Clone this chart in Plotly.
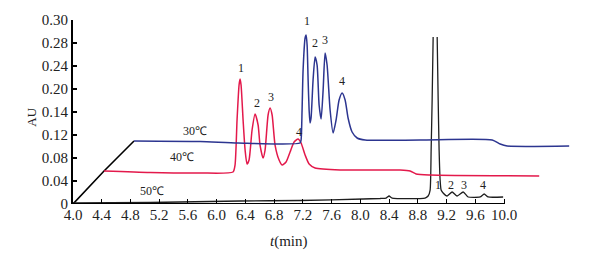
import plotly.graph_objects as go

# ---- data ----
t50 = [4.000, 5.072, 6.325, 7.160, 8.037, 8.274, 8.358, 8.399, 8.441, 8.900, 8.942, 8.970, 8.984,
       8.998, 9.012, None, 9.068, 9.082, 9.095, 9.109, 9.123, 9.151, 9.207, 9.276, 9.346, 9.430,
       9.499, 9.666, 9.722, 9.778, 9.986]
au50 = [0.0017, 0.0026, 0.0052, 0.0061, 0.0087, 0.0096, 0.0104, 0.0139, 0.0104, 0.0104, 0.0139, 0.0243, 0.0939,
        0.1809, 0.2904, None, 0.2904, 0.1809, 0.0939, 0.0417, 0.0243, 0.0191, 0.0139, 0.0209, 0.0139, 0.0209,
        0.0122, 0.0122, 0.0174, 0.0122, 0.0122]

t40 = [4.432, 5.072, 5.768, 6.227, 6.255, 6.283, 6.311, 6.325, 6.339, 6.367, 6.395, 6.422, 6.450,
       6.492, 6.534, 6.576, 6.603, 6.645, 6.673, 6.715, 6.743, 6.771, 6.812, 6.868, 6.910, 6.965,
       7.021, 7.077, 7.132, 7.174, 7.230, 7.286, 7.369, 7.717, 8.552, 8.692, 8.775, 8.970, 10.488]
au40 = [0.0574, 0.0548, 0.0539, 0.0557, 0.0678, 0.1461, 0.2070, 0.2174, 0.2070, 0.1461, 0.0939, 0.0696, 0.0765,
        0.1287, 0.1565, 0.1374, 0.1026, 0.0800, 0.0939, 0.1548, 0.1670, 0.1548, 0.1026, 0.0765, 0.0678, 0.0730,
        0.0904, 0.1078, 0.1130, 0.1061, 0.0852, 0.0696, 0.0626, 0.0591, 0.0591, 0.0574, 0.0522, 0.0504, 0.0487]

t30 = [4.849, 5.768, 6.297, 7.160, 7.174, 7.188, 7.202, 7.230, 7.244, 7.258, 7.272, 7.286, 7.299,
       7.313, 7.341, 7.369, 7.397, 7.425, 7.453, 7.481, 7.508, 7.536, 7.578, 7.620, 7.661, 7.703,
       7.745, 7.787, 7.828, 7.884, 7.954, 8.065, 8.831, 9.834, 9.945, 10.042, 10.905]
au30 = [0.1096, 0.1087, 0.1061, 0.1061, 0.1113, 0.1635, 0.2330, 0.2887, 0.2939, 0.2765, 0.2157, 0.1635, 0.1409,
        0.1496, 0.2157, 0.2557, 0.2417, 0.1722, 0.1478, 0.1983, 0.2626, 0.2417, 0.1635, 0.1235, 0.1461, 0.1809,
        0.1930, 0.1809, 0.1496, 0.1252, 0.1148, 0.1113, 0.1113, 0.1113, 0.1043, 0.1009, 0.1009]

# pseudo-3D depth axis (start of each temperature baseline)
depth_t = [4.000, 4.432, 4.849]
depth_au = [0.0, 0.0574, 0.1096]

temps = ["50℃", "40℃", "30℃"]
peak_names = ["1", "2", "3", "4"]

x_tickvals = [4.0, 4.4, 4.8, 5.2, 5.6, 6.0, 6.4, 6.8, 7.2, 7.6, 8.0, 8.4, 8.8, 9.2, 9.6, 10.0]
x_ticktext = ["4.0", "4.4", "4.8", "5.2", "5.6", "6.0", "6.4", "6.8", "7.2", "7.6", "8.0", "8.4",
              "8.8", "9.2", "9.6", "10.0"]
y_tickvals = [0, 0.04, 0.08, 0.12, 0.16, 0.20, 0.24, 0.28, 0.32]
y_ticktext = ["0", "0.04", "0.08", "0.12", "0.14", "0.20", "0.24", "0.28", "0.30"]

SERIF = "Liberation Serif, Times New Roman, serif"
BLACK = "#1e1e1e"
RED = "#e3194b"
BLUE = "#2c3590"

fig = go.Figure()
fig.add_trace(go.Scatter(x=depth_t, y=depth_au, mode="lines",
                         line=dict(color="black", width=1.6), hoverinfo="skip"))
fig.add_trace(go.Scatter(x=t50, y=au50, mode="lines", connectgaps=False,
                         line=dict(color=BLACK, width=1.3, shape="spline", smoothing=0.5)))
fig.add_trace(go.Scatter(x=t40, y=au40, mode="lines",
                         line=dict(color=RED, width=1.5, shape="spline", smoothing=0.6)))
fig.add_trace(go.Scatter(x=t30, y=au30, mode="lines",
                         line=dict(color=BLUE, width=1.5, shape="spline", smoothing=0.6)))

ann = []
def lab(x, y, text, size=12):
    ann.append(dict(x=x, y=y, xref="x", yref="y", text=text, showarrow=False,
                    font=dict(family=SERIF, size=size, color="#222")))

# peak labels
for x, y, n in zip([6.339, 6.562, 6.757, 7.146], [0.2365, 0.1757, 0.1861, 0.1252], peak_names):
    lab(x, y, n)
for x, y, n in zip([7.258, 7.369, 7.508, 7.745], [0.3183, 0.280, 0.285, 0.2139], peak_names):
    lab(x, y, n)
for x, y, n in zip([9.082, 9.262, 9.443, 9.708], [0.033, 0.033, 0.033, 0.033], peak_names):
    lab(x, y, n)
# temperature labels
for x, y, tx in zip([5.10, 5.517, 5.698], [0.0226, 0.0817, 0.127], temps):
    lab(x, y, tx, size=12)

ann.append(dict(x=7.0, y=0, xref="x", yref="paper", yshift=-37, yanchor="middle",
                text="<i>t</i>(min)", showarrow=False,
                font=dict(family=SERIF, size=15, color="#222")))
ann.append(dict(x=0, y=0.151, xref="paper", yref="y", xshift=-51, text="AU", textangle=-90,
                showarrow=False, font=dict(family=SERIF, size=13, color="#222")))

fig.update_layout(
    width=605, height=257,
    margin=dict(l=73, r=29, t=20, b=53),
    paper_bgcolor="white", plot_bgcolor="white",
    showlegend=False,
    annotations=ann,
    shapes=[dict(type="line", xref="x", yref="y", x0=x_tickvals[0], x1=x_tickvals[-1], y0=0, y1=0,
                 line=dict(color="black", width=2), layer="above")],
    xaxis=dict(range=[4.0, 11.0], tickvals=x_tickvals, ticktext=x_ticktext, ticks="inside",
               ticklen=5, tickwidth=1.2, tickcolor="black", showline=False, showgrid=False,
               zeroline=False, tickfont=dict(family=SERIF, size=15, color="#222")),
    yaxis=dict(range=[0, 0.32], tickvals=y_tickvals, ticktext=y_ticktext, ticks="inside",
               ticklen=4, tickwidth=1.5, tickcolor="black", showline=True, linecolor="black",
               linewidth=2, showgrid=False, zeroline=False,
               tickfont=dict(family=SERIF, size=15, color="#222")),
)

fig.write_html("out.html", config={"displayModeBar": False},
               post_script="document.body.style.margin='0';")
